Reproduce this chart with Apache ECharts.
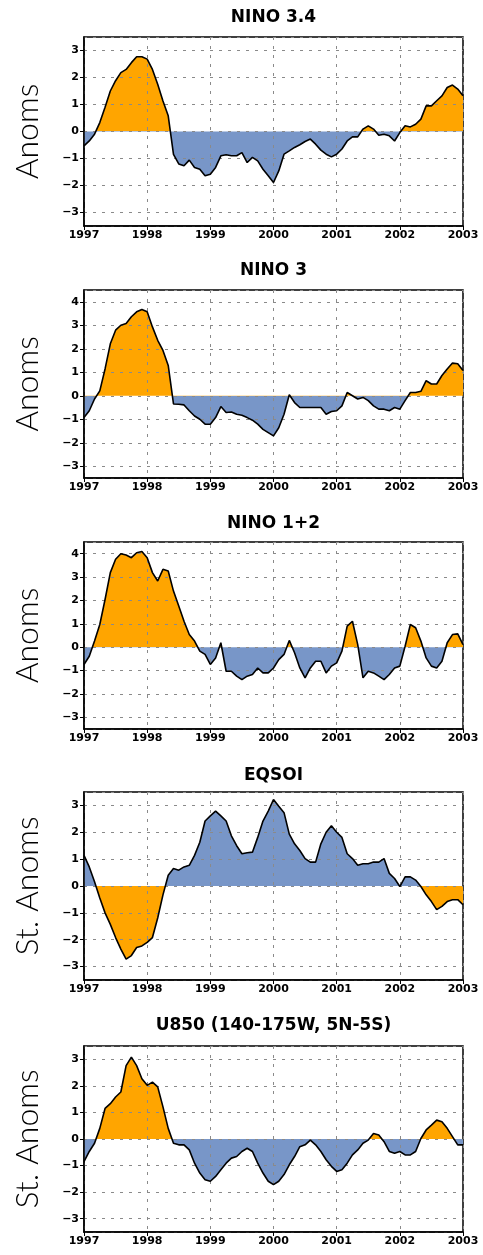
<!DOCTYPE html>
<html>
<head>
<meta charset="utf-8">
<script src="https://cdn.jsdelivr.net/npm/echarts@6/dist/echarts.min.js"></script>
<style>
html,body{margin:0;padding:0;background:#fff;}
#chart{width:483px;height:1255px;}
</style>
</head>
<body>
<div id="chart"></div>
<script>
// Monthly values, Jan 1997 .. Jan 2003 (73 points)
const startYear = 1997;
const endYear = 2003;

const titles = ['NINO 3.4', 'NINO 3', 'NINO 1+2', 'EQSOI', 'U850 (140-175W, 5N-5S)'];
const yNames = ['Anoms', 'Anoms', 'Anoms', 'St. Anoms', 'St. Anoms'];
const yMins = [-3.5, -3.5, -3.5, -3.5, -3.5];
const yMaxs = [3.5, 4.5, 4.5, 3.5, 3.5];

const nino34 = [-0.53,-0.35,-0.1,0.33,0.9,1.5,1.88,2.18,2.3,2.55,2.77,2.77,2.68,2.3,1.75,1.13,0.58,-0.85,-1.2,-1.27,-1.06,-1.33,-1.4,-1.64,-1.58,-1.33,-0.9,-0.86,-0.9,-0.9,-0.78,-1.15,-0.96,-1.09,-1.4,-1.64,-1.89,-1.46,-0.84,-0.72,-0.59,-0.49,-0.37,-0.28,-0.47,-0.69,-0.84,-0.94,-0.84,-0.65,-0.35,-0.2,-0.2,0.09,0.21,0.09,-0.14,-0.1,-0.16,-0.35,-0.04,0.21,0.17,0.27,0.46,0.95,0.95,1.14,1.32,1.63,1.72,1.57,1.32];

const nino3 = [-0.93,-0.64,-0.14,0.21,1.14,2.21,2.79,3.0,3.07,3.36,3.57,3.67,3.57,2.93,2.36,1.93,1.29,-0.35,-0.36,-0.39,-0.64,-0.86,-1.0,-1.21,-1.21,-0.93,-0.46,-0.71,-0.69,-0.79,-0.83,-0.93,-1.04,-1.21,-1.43,-1.57,-1.71,-1.36,-0.79,0.04,-0.29,-0.5,-0.5,-0.5,-0.5,-0.5,-0.79,-0.67,-0.64,-0.43,0.14,0.0,-0.14,-0.07,-0.21,-0.43,-0.57,-0.57,-0.64,-0.5,-0.57,-0.21,0.14,0.14,0.19,0.64,0.5,0.5,0.86,1.14,1.39,1.36,1.07];

const nino12 = [-0.74,-0.39,0.26,0.97,2.04,3.19,3.76,4.0,3.94,3.83,4.04,4.09,3.83,3.19,2.83,3.33,3.26,2.4,1.76,1.11,0.54,0.26,-0.17,-0.31,-0.74,-0.46,0.19,-1.03,-1.03,-1.24,-1.39,-1.24,-1.17,-0.89,-1.1,-1.1,-0.89,-0.53,-0.31,0.29,-0.24,-0.89,-1.31,-0.89,-0.6,-0.6,-1.1,-0.81,-0.67,-0.17,0.9,1.11,0.11,-1.31,-1.03,-1.1,-1.24,-1.39,-1.17,-0.89,-0.81,0.04,0.97,0.83,0.26,-0.46,-0.81,-0.89,-0.6,0.19,0.54,0.57,0.11];

const eqsoi = [1.14,0.71,0.16,-0.45,-1.0,-1.43,-1.92,-2.35,-2.72,-2.59,-2.29,-2.23,-2.1,-1.92,-1.19,-0.33,0.4,0.65,0.59,0.71,0.77,1.14,1.63,2.42,2.61,2.79,2.61,2.42,1.87,1.5,1.2,1.24,1.26,1.81,2.42,2.79,3.22,2.97,2.73,1.93,1.57,1.32,1.02,0.89,0.89,1.57,2.0,2.24,2.0,1.81,1.2,1.02,0.77,0.83,0.83,0.89,0.89,1.02,0.47,0.28,-0.02,0.34,0.34,0.22,-0.02,-0.33,-0.58,-0.88,-0.76,-0.58,-0.51,-0.51,-0.7];

const u850 = [-0.85,-0.47,-0.16,0.4,1.15,1.33,1.58,1.77,2.76,3.08,2.76,2.27,2.02,2.14,1.96,1.21,0.4,-0.16,-0.22,-0.22,-0.41,-0.91,-1.28,-1.53,-1.59,-1.41,-1.16,-0.91,-0.72,-0.66,-0.47,-0.35,-0.47,-0.91,-1.28,-1.59,-1.72,-1.59,-1.34,-0.97,-0.66,-0.29,-0.22,-0.04,-0.22,-0.47,-0.78,-1.03,-1.22,-1.16,-0.91,-0.6,-0.41,-0.16,-0.04,0.21,0.15,-0.1,-0.47,-0.54,-0.47,-0.6,-0.6,-0.47,0.02,0.34,0.52,0.71,0.65,0.4,0.09,-0.22,-0.22];

const allSeries = [nino34, nino3, nino12, eqsoi, u850];

const ORANGE = '#FFA500';
const BLUE = '#7896C8';
// SOI has the opposite sign convention: positive is blue
const posColors = [ORANGE, ORANGE, ORANGE, BLUE, ORANGE];
const negColors = [BLUE, BLUE, BLUE, ORANGE, BLUE];

const gridTops = [37, 290, 542, 792, 1046];
const gridHeights = [189, 188, 187, 188, 186];
const titleTops = [9, 262, 515, 767, 1017];
const gridLeft = 84;
const gridWidth = 379;

function toPairs(vals) {
  return vals.map(function (v, i) { return [startYear + i / 12, v]; });
}

// vertical gradient that switches colour exactly at value 0 inside the area's bounding box
function signGradient(vals, pos, neg) {
  const hi = Math.max(0, Math.max.apply(null, vals));
  const lo = Math.min(0, Math.min.apply(null, vals));
  const f = (hi - lo) > 0 ? hi / (hi - lo) : 0.5;
  return new echarts.graphic.LinearGradient(0, 0, 0, 1, [
    { offset: 0, color: pos },
    { offset: f, color: pos },
    { offset: f, color: neg },
    { offset: 1, color: neg }
  ]);
}

const grid = [], xAxis = [], yAxis = [], series = [], title = [];
const GRIDLINE = { show: true, lineStyle: { color: '#8a8a8a', width: 1, type: [3, 6] } };

for (let k = 0; k < 5; k++) {
  grid.push({
    left: gridLeft, top: gridTops[k], width: gridWidth, height: gridHeights[k],
    show: true, borderColor: '#000', borderWidth: 1.5, backgroundColor: 'transparent'
  });
  title.push({
    text: titles[k], left: gridLeft + gridWidth / 2, top: titleTops[k], textAlign: 'center',
    padding: 0,
    textStyle: { fontFamily: 'DejaVu Sans', fontWeight: 'bold', fontSize: 17, color: '#000' }
  });
  xAxis.push({
    type: 'value', gridIndex: k, min: startYear, max: endYear, interval: 1,
    z: 5,
    axisLine: { show: true, onZero: false, lineStyle: { color: '#000', width: 1.5 } },
    axisTick: { show: true, length: 4, inside: false, lineStyle: { color: '#000', width: 1 } },
    axisLabel: {
      margin: 4, color: '#000', fontFamily: 'DejaVu Sans', fontWeight: 'bold', fontSize: 11,
      formatter: function (v) { return String(Math.round(v)); },
      showMinLabel: true, showMaxLabel: true
    },
    splitLine: GRIDLINE
  });
  yAxis.push({
    type: 'value', gridIndex: k, min: yMins[k], max: yMaxs[k],
    splitNumber: Math.round(yMaxs[k] - yMins[k]), minInterval: 1, maxInterval: 1,
    z: 5,
    name: yNames[k], nameLocation: 'middle', nameGap: 40,
    nameTextStyle: { fontFamily: 'Lato, DejaVu Sans', fontWeight: 300, fontSize: 32, color: '#000' },
    axisLine: { show: true, onZero: false, lineStyle: { color: '#000', width: 1.5 } },
    axisTick: { show: true, length: 4, lineStyle: { color: '#000', width: 1 } },
    axisLabel: {
      margin: 5, color: '#000', fontFamily: 'DejaVu Sans', fontWeight: 'bold', fontSize: 11,
      showMinLabel: false, showMaxLabel: false,
      formatter: function (v) {
        const r = Math.round(v);
        if (Math.abs(v - r) > 1e-6) return '';
        return String(r).replace('-', '\u2212');
      }
    },
    splitLine: GRIDLINE
  });
  const data = toPairs(allSeries[k]);
  // filled area, coloured by sign
  series.push({
    type: 'line', xAxisIndex: k, yAxisIndex: k, data: data,
    showSymbol: false, symbol: 'none', silent: true, z: 2,
    lineStyle: { width: 0, opacity: 0 },
    areaStyle: { opacity: 1, origin: 0, color: signGradient(allSeries[k], posColors[k], negColors[k]) }
  });
  // black outline
  series.push({
    type: 'line', xAxisIndex: k, yAxisIndex: k, data: data,
    showSymbol: false, symbol: 'none', silent: true, z: 10,
    lineStyle: { color: '#000', width: 1.6 }
  });
}

const chart = echarts.init(document.getElementById('chart'), null, { renderer: 'canvas' });
chart.setOption({
  animation: false,
  backgroundColor: '#fff',
  title: title, grid: grid, xAxis: xAxis, yAxis: yAxis, series: series
});
</script>
</body>
</html>
